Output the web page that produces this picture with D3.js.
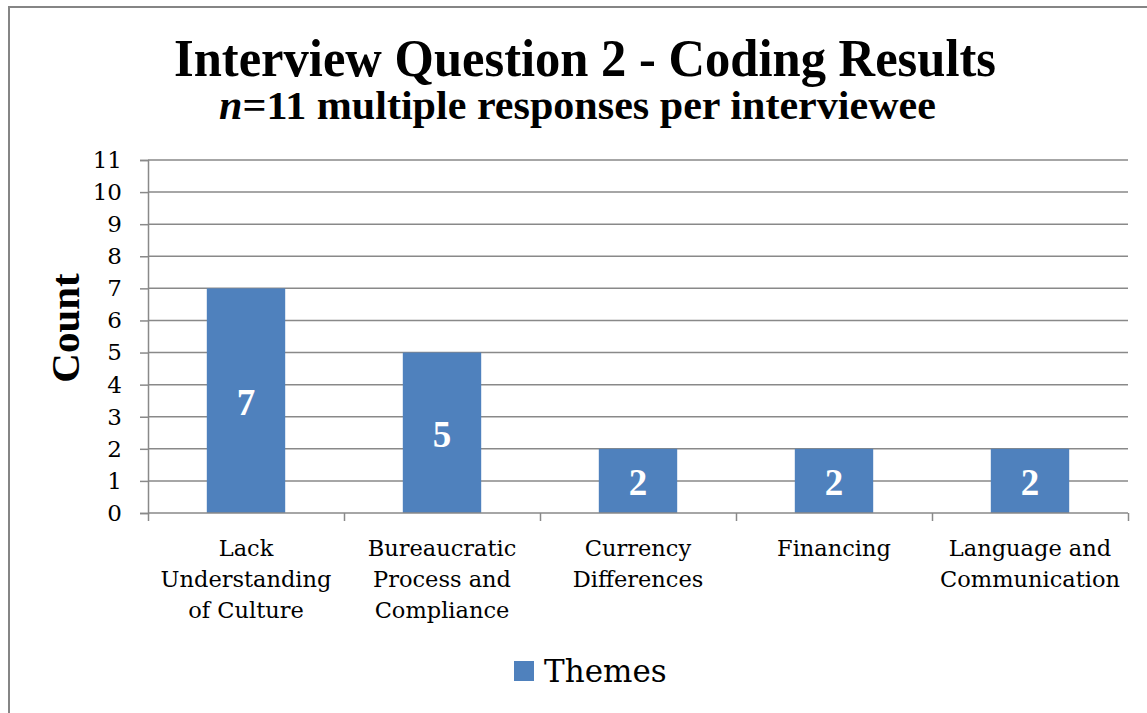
<!DOCTYPE html>
<html>
<head>
<meta charset="utf-8">
<script src="https://cdn.jsdelivr.net/npm/d3@7"></script>
<style>
  html, body { margin: 0; padding: 0; background: #fff; }
  svg { display: block; }
</style>
</head>
<body>
<svg id="chart" width="1147" height="713"></svg>
<script>
const categories = [
  ["Lack", "Understanding", "of Culture"],
  ["Bureaucratic", "Process and", "Compliance"],
  ["Currency", "Differences"],
  ["Financing"],
  ["Language and", "Communication"]
];
const values = [7, 5, 2, 2, 2];
const yTicks = [0, 1, 2, 3, 4, 5, 6, 7, 8, 9, 10, 11];
const seriesName = "Themes";
const titleText = "Interview Question 2 - Coding Results";
const subtitleItalic = "n";
const subtitleRest = "=11 multiple responses per interviewee";
const yAxisTitle = "Count";

(function () {
const svg = d3.select("#chart");
const serif = "'Liberation Serif', 'Times New Roman', serif";
const serif2 = "'DejaVu Serif', serif";
const gridColor = "#898989";
const barColor = "#4f81bd";

// outer frame
svg.append("path")
  .attr("d", "M9,720 L9,7 L1160,7")
  .attr("fill", "none").attr("stroke", "#858585").attr("stroke-width", 2);

const pLeft = 148, pRight = 1128, pTop = 160, pBottom = 513;
const x = d3.scaleBand().domain(d3.range(categories.length)).range([pLeft, pRight]).padding(0);
const y = d3.scaleLinear().domain([0, 11]).range([pBottom, pTop]);

// gridlines
svg.append("g").selectAll("line").data(yTicks.filter(d => d > 0)).join("line")
  .attr("x1", pLeft).attr("x2", pRight)
  .attr("y1", d => y(d)).attr("y2", d => y(d))
  .attr("stroke", gridColor).attr("stroke-width", 1.5);

// bars
const barW = x.bandwidth() * 0.4;
svg.append("g").selectAll("rect").data(values).join("rect")
  .attr("x", (d, i) => x(i) + (x.bandwidth() - barW) / 2)
  .attr("y", d => y(d))
  .attr("width", barW)
  .attr("height", d => y(0) - y(d))
  .attr("fill", barColor);

// y axis
const yAxis = d3.axisLeft(y).tickValues(yTicks).tickSize(8).tickPadding(18).tickFormat(d3.format("d"));
const gy = svg.append("g").attr("transform", `translate(${pLeft},0)`).call(yAxis);
gy.select(".domain").attr("stroke", gridColor).attr("stroke-width", 1.5);
gy.selectAll(".tick line").attr("stroke", gridColor).attr("stroke-width", 1.5);
gy.selectAll(".tick text").attr("font-family", serif2).attr("font-size", 23).attr("fill", "#000");

// x axis
const xb = d3.scaleLinear().domain([0, categories.length]).range([pLeft, pRight]);
const xAxis = d3.axisBottom(xb).tickValues(d3.range(categories.length + 1)).tickSize(8).tickFormat("");
const gx = svg.append("g").attr("transform", `translate(0,${pBottom})`).call(xAxis);
gx.select(".domain").attr("stroke", gridColor).attr("stroke-width", 1.5).attr("d", `M${pLeft},0H${pRight}`);
gx.selectAll(".tick line").attr("stroke", gridColor).attr("stroke-width", 1.5);

// category labels
const catG = svg.append("g");
categories.forEach((lines, i) => {
  const cx = x(i) + x.bandwidth() / 2;
  const t = catG.append("text")
    .attr("x", cx).attr("y", 556)
    .attr("text-anchor", "middle")
    .attr("font-family", serif2).attr("font-size", 22.5).attr("fill", "#000");
  lines.forEach((ln, j) => {
    t.append("tspan").attr("x", cx).attr("y", 556 + j * 31).text(ln);
  });
});

// data labels
svg.append("g").selectAll("text").data(values).join("text")
  .attr("x", (d, i) => x(i) + x.bandwidth() / 2)
  .attr("y", d => (y(d) + y(0)) / 2 + 14)
  .attr("text-anchor", "middle")
  .attr("font-family", serif).attr("font-weight", "bold").attr("font-size", 37)
  .attr("fill", "#fff")
  .text(d => d);

// y axis title
svg.append("text")
  .attr("transform", "translate(79,328) rotate(-90)")
  .attr("text-anchor", "middle")
  .attr("font-family", serif).attr("font-weight", "bold").attr("font-size", 41)
  .attr("fill", "#000")
  .text(yAxisTitle);

// title
svg.append("text")
  .attr("x", 174).attr("y", 76)
  .attr("font-family", serif).attr("font-weight", "bold").attr("font-size", 52)
  .attr("textLength", 822).attr("lengthAdjust", "spacingAndGlyphs")
  .attr("fill", "#000")
  .text(titleText);

const sub = svg.append("text")
  .attr("x", 219).attr("y", 119)
  .attr("font-family", serif).attr("font-weight", "bold").attr("font-size", 39)
  .attr("textLength", 717).attr("lengthAdjust", "spacingAndGlyphs")
  .attr("fill", "#000");
sub.append("tspan").attr("font-style", "italic").text(subtitleItalic);
sub.append("tspan").text(subtitleRest);

// legend
svg.append("rect").attr("x", 514).attr("y", 661).attr("width", 20).attr("height", 20).attr("fill", barColor);
svg.append("text")
  .attr("x", 544).attr("y", 682)
  .attr("font-family", serif2).attr("font-size", 31).attr("fill", "#000")
  .text(seriesName);
})();
</script>
</body>
</html>
